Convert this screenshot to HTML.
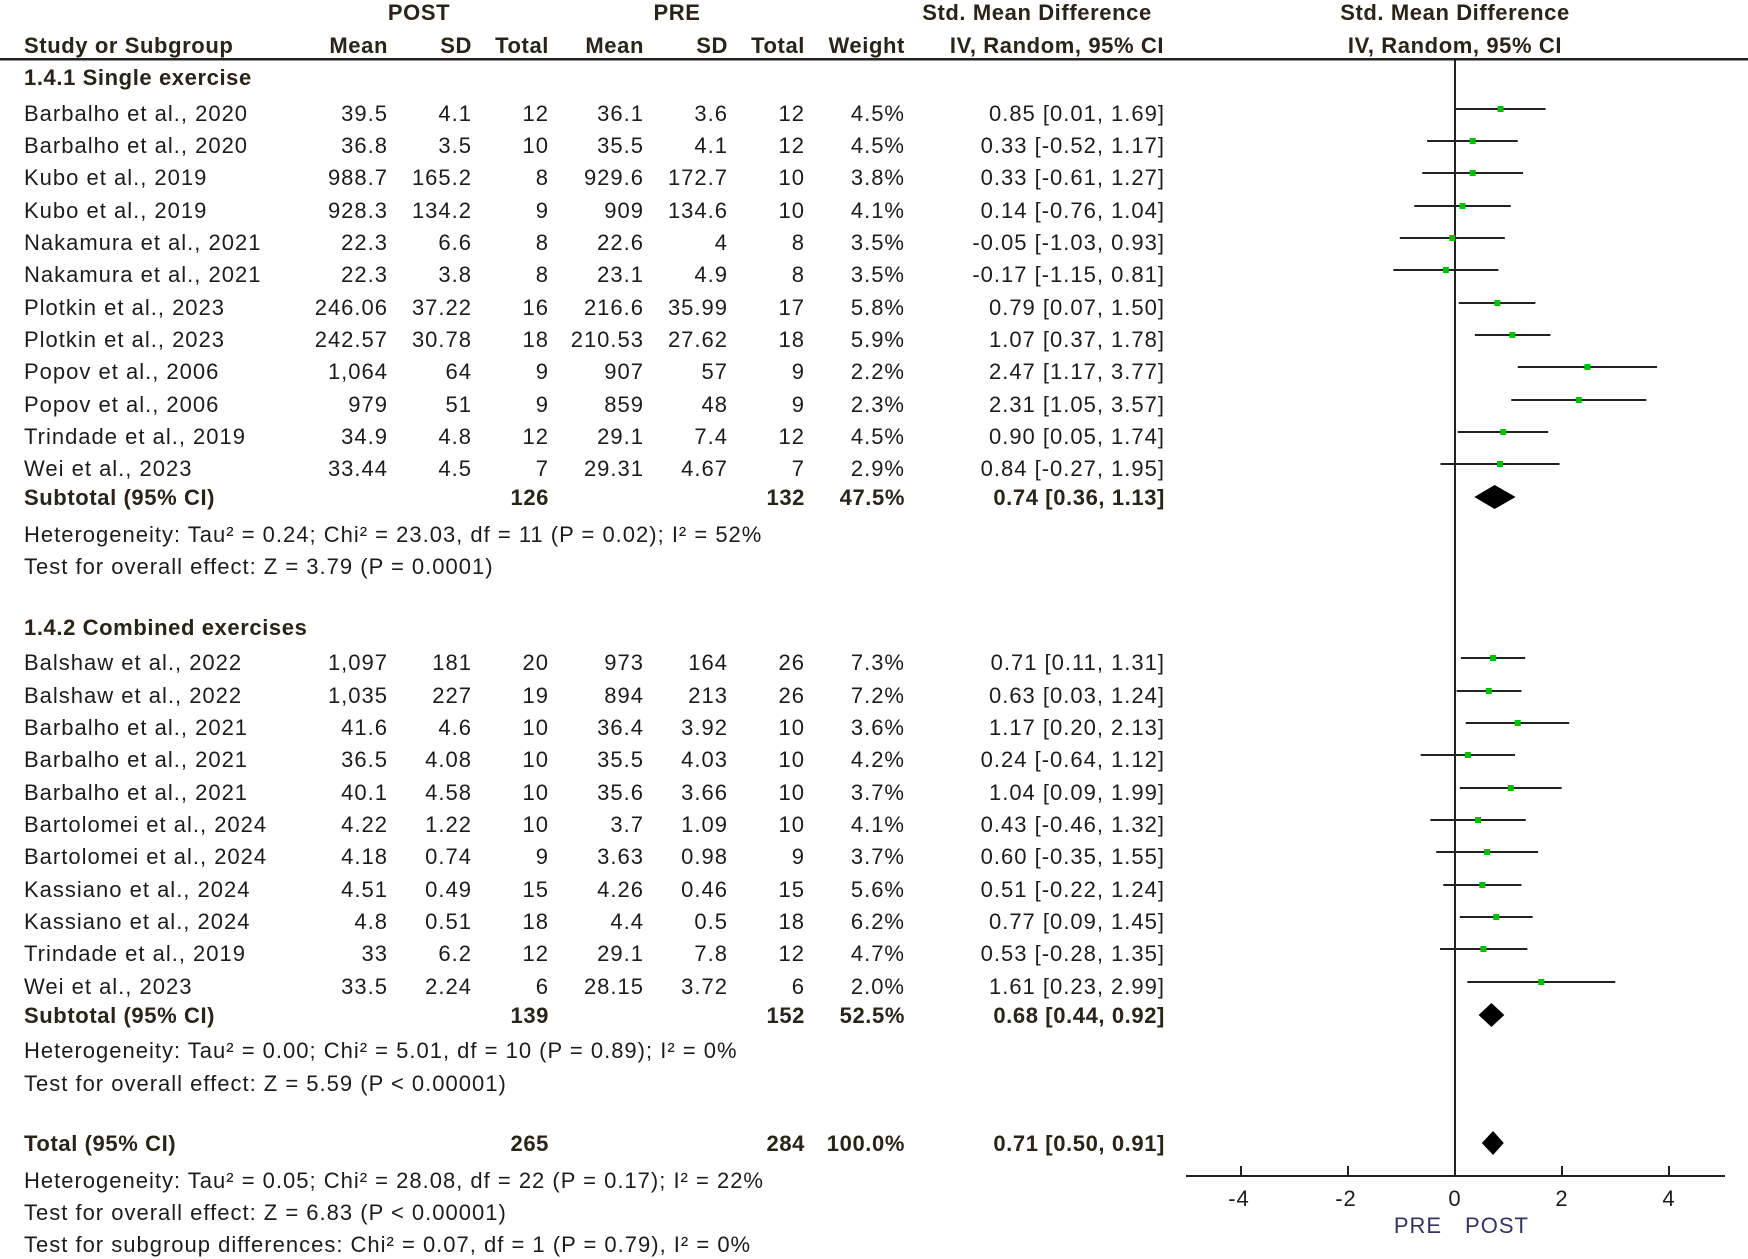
<!DOCTYPE html>
<html><head><meta charset="utf-8"><style>
html,body{margin:0;padding:0;background:#fff;}
svg{display:block;}
text{font-family:"Liberation Sans",Arial,sans-serif;font-size:22px;fill:#1c1c1c;letter-spacing:1px;}
.b{font-weight:bold;fill:#2a2418;letter-spacing:0.6px;}
</style></head><body>
<svg width="1748" height="1259" viewBox="0 0 1748 1259" xmlns="http://www.w3.org/2000/svg">
<text x="419" y="20" text-anchor="middle" class="b">POST</text>
<text x="677" y="20" text-anchor="middle" class="b">PRE</text>
<text x="1037" y="20" text-anchor="middle" class="b">Std. Mean Difference</text>
<text x="1455" y="20" text-anchor="middle" class="b">Std. Mean Difference</text>
<text x="24" y="53" class="b">Study or Subgroup</text>
<text x="388" y="53" text-anchor="end" class="b">Mean</text>
<text x="472" y="53" text-anchor="end" class="b">SD</text>
<text x="549" y="53" text-anchor="end" class="b">Total</text>
<text x="644" y="53" text-anchor="end" class="b">Mean</text>
<text x="728" y="53" text-anchor="end" class="b">SD</text>
<text x="805" y="53" text-anchor="end" class="b">Total</text>
<text x="905" y="53" text-anchor="end" class="b">Weight</text>
<text x="1057" y="53" text-anchor="middle" class="b">IV, Random, 95% CI</text>
<text x="1455" y="53" text-anchor="middle" class="b">IV, Random, 95% CI</text>
<rect x="0" y="58" width="1748" height="2.5" fill="#222"/>
<line x1="1455" y1="60" x2="1455" y2="1176" stroke="#222" stroke-width="2"/>
<text x="24" y="85" class="b">1.4.1 Single exercise</text>
<text x="24" y="635" class="b">1.4.2 Combined exercises</text>
<g id="rows"></g>
<line x1="1186" y1="1176" x2="1725" y2="1176" stroke="#222" stroke-width="2"/>
<g stroke="#222" stroke-width="2">
<line x1="1241" y1="1166" x2="1241" y2="1176"/><line x1="1348" y1="1166" x2="1348" y2="1176"/>
<line x1="1562" y1="1166" x2="1562" y2="1176"/><line x1="1669" y1="1166" x2="1669" y2="1176"/>
</g>
<g text-anchor="middle">
<text x="1239" y="1206">-4</text><text x="1346" y="1206">-2</text><text x="1455" y="1206">0</text>
<text x="1562" y="1206">2</text><text x="1669" y="1206">4</text>
<text x="1418" y="1233" style="fill:#333366">PRE</text><text x="1497" y="1233" style="fill:#333366">POST</text>
</g>
</svg>
<script>
var rows=[
["Barbalho et al., 2020","39.5","4.1","12","36.1","3.6","12","4.5%","0.85 [0.01, 1.69]",113],
["Barbalho et al., 2020","36.8","3.5","10","35.5","4.1","12","4.5%","0.33 [-0.52, 1.17]",145],
["Kubo et al., 2019","988.7","165.2","8","929.6","172.7","10","3.8%","0.33 [-0.61, 1.27]",177],
["Kubo et al., 2019","928.3","134.2","9","909","134.6","10","4.1%","0.14 [-0.76, 1.04]",210],
["Nakamura et al., 2021","22.3","6.6","8","22.6","4","8","3.5%","-0.05 [-1.03, 0.93]",242],
["Nakamura et al., 2021","22.3","3.8","8","23.1","4.9","8","3.5%","-0.17 [-1.15, 0.81]",274],
["Plotkin et al., 2023","246.06","37.22","16","216.6","35.99","17","5.8%","0.79 [0.07, 1.50]",307],
["Plotkin et al., 2023","242.57","30.78","18","210.53","27.62","18","5.9%","1.07 [0.37, 1.78]",339],
["Popov et al., 2006","1,064","64","9","907","57","9","2.2%","2.47 [1.17, 3.77]",371],
["Popov et al., 2006","979","51","9","859","48","9","2.3%","2.31 [1.05, 3.57]",404],
["Trindade et al., 2019","34.9","4.8","12","29.1","7.4","12","4.5%","0.90 [0.05, 1.74]",436],
["Wei et al., 2023","33.44","4.5","7","29.31","4.67","7","2.9%","0.84 [-0.27, 1.95]",468],
["Balshaw et al., 2022","1,097","181","20","973","164","26","7.3%","0.71 [0.11, 1.31]",662],
["Balshaw et al., 2022","1,035","227","19","894","213","26","7.2%","0.63 [0.03, 1.24]",695],
["Barbalho et al., 2021","41.6","4.6","10","36.4","3.92","10","3.6%","1.17 [0.20, 2.13]",727],
["Barbalho et al., 2021","36.5","4.08","10","35.5","4.03","10","4.2%","0.24 [-0.64, 1.12]",759],
["Barbalho et al., 2021","40.1","4.58","10","35.6","3.66","10","3.7%","1.04 [0.09, 1.99]",792],
["Bartolomei et al., 2024","4.22","1.22","10","3.7","1.09","10","4.1%","0.43 [-0.46, 1.32]",824],
["Bartolomei et al., 2024","4.18","0.74","9","3.63","0.98","9","3.7%","0.60 [-0.35, 1.55]",856],
["Kassiano et al., 2024","4.51","0.49","15","4.26","0.46","15","5.6%","0.51 [-0.22, 1.24]",889],
["Kassiano et al., 2024","4.8","0.51","18","4.4","0.5","18","6.2%","0.77 [0.09, 1.45]",921],
["Trindade et al., 2019","33","6.2","12","29.1","7.8","12","4.7%","0.53 [-0.28, 1.35]",953],
["Wei et al., 2023","33.5","2.24","6","28.15","3.72","6","2.0%","1.61 [0.23, 2.99]",986]
];
var xs=[388,472,549,644,728,805,905,1165];
var g=document.getElementById("rows"),ns="http://www.w3.org/2000/svg";
function T(x,y,s,anc,cls){var t=document.createElementNS(ns,"text");t.setAttribute("x",x);t.setAttribute("y",y);if(anc)t.setAttribute("text-anchor",anc);if(cls)t.setAttribute("class",cls);t.textContent=s;g.appendChild(t);}
function E(n,a){var e=document.createElementNS(ns,n);for(var k in a)e.setAttribute(k,a[k]);g.appendChild(e);}
var X=function(v){return 1455+v*53.6;};
rows.forEach(function(r){var y=r[9];T(24,y+8,r[0]);for(var i=0;i<8;i++)T(xs[i],y+8,r[i+1],"end");
 var m=r[8].match(/(-?[\d.]+) \[(-?[\d.]+), (-?[\d.]+)\]/);
 E("line",{x1:X(+m[2]),x2:X(+m[3]),y1:y-4,y2:y-4,stroke:"#222","stroke-width":2});
 E("rect",{x:X(+m[1])-3,y:y-7,width:6,height:6,fill:"#00c000"});});
function sub(y,lab,t1,t2,w,ci,e,lo,hi){T(24,y+8,lab,null,"b");T(549,y+8,t1,"end","b");T(805,y+8,t2,"end","b");T(905,y+8,w,"end","b");T(1165,y+8,ci,"end","b");
 E("polygon",{points:X(lo)+","+y+" "+X(e)+","+(y-12)+" "+X(hi)+","+y+" "+X(e)+","+(y+12),fill:"#000"});}
sub(497,"Subtotal (95% CI)","126","132","47.5%","0.74 [0.36, 1.13]",0.74,0.36,1.13);
sub(1015,"Subtotal (95% CI)","139","152","52.5%","0.68 [0.44, 0.92]",0.68,0.44,0.92);
sub(1143,"Total (95% CI)","265","284","100.0%","0.71 [0.50, 0.91]",0.71,0.50,0.91);
[[534,"Heterogeneity: Tau² = 0.24; Chi² = 23.03, df = 11 (P = 0.02); I² = 52%"],
 [566,"Test for overall effect: Z = 3.79 (P = 0.0001)"],
 [1050,"Heterogeneity: Tau² = 0.00; Chi² = 5.01, df = 10 (P = 0.89); I² = 0%"],
 [1083,"Test for overall effect: Z = 5.59 (P < 0.00001)"],
 [1180,"Heterogeneity: Tau² = 0.05; Chi² = 28.08, df = 22 (P = 0.17); I² = 22%"],
 [1212,"Test for overall effect: Z = 6.83 (P < 0.00001)"],
 [1244,"Test for subgroup differences: Chi² = 0.07, df = 1 (P = 0.79), I² = 0%"]
].forEach(function(a){T(24,a[0]+8,a[1]);});
</script>
</body></html>
